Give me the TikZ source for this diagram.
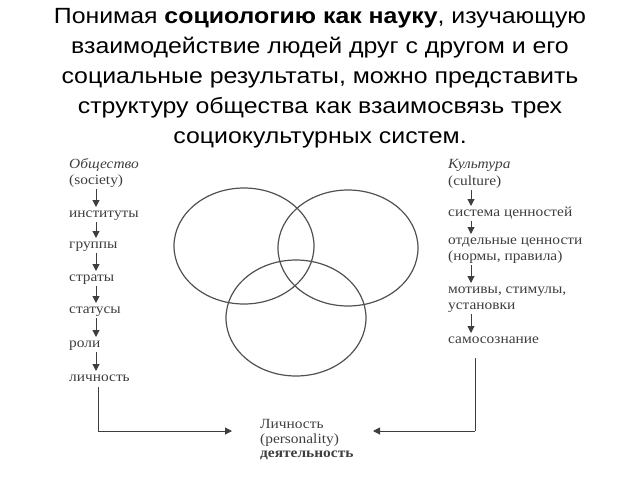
\documentclass[tikz,border=0pt]{standalone}
\usepackage{fontspec}
\setmainfont{Liberation Serif}[FakeStretch=1.1]
\newfontfamily\titlefont{Liberation Sans}[FakeStretch=1.13]
\usetikzlibrary{arrows.meta}
\definecolor{ink}{HTML}{3E3E3E}
\tikzset{
  lbl/.style={anchor=base west, inner sep=0pt, text=ink, font=\fontsize{14}{16}\selectfont},
  ital/.style={lbl, font=\fontsize{14}{16}\selectfont\itshape},
  darr/.style={draw=ink, line width=1pt, -{Triangle[length=7pt,width=7pt]}},
  conn/.style={draw=ink, line width=1pt},
  venn/.style={draw=ink!90, line width=1.2pt}
}
\begin{document}
\begin{tikzpicture}[x=1pt,y=-1pt]
\useasboundingbox (0,0) rectangle (640,480);
% title
\node[anchor=north, align=center, inner sep=0pt, font=\titlefont\fontsize{22}{30}\selectfont] (title) at (320,8.5)
{Понимая \textbf{социологию как науку}, изучающую\\
взаимодействие людей друг с другом и его\\
социальные результаты, можно представить\\
структуру общества как взаимосвязь трех\\
социокультурных систем.};
% left column
\node[ital] (obs) at (69,168) {Общество};
\node[lbl] (soc) at (69,184) {(society)};
\node[lbl] (inst) at (69,217) {институты};
\node[lbl] (grp) at (69,248) {группы};
\node[lbl] (str) at (69,281) {страты};
\node[lbl] (sta) at (69,313) {статусы};
\node[lbl] (rol) at (69,347) {роли};
\node[lbl] (lic) at (69,381) {личность};
\foreach \a/\b in {soc/inst,inst/grp,grp/str,str/sta,sta/rol,rol/lic}
  \draw[darr] ([yshift=-5pt]\a.base west -| 96,0) -- ([yshift=10pt]\b.base west -| 96,0);
% right column
\node[ital] (kul) at (448,168) {Культура};
\node[lbl] (cul) at (448,185) {(culture)};
\node[lbl] (sys) at (448,216) {система ценностей};
\node[lbl] (otd) at (448,244) {отдельные ценности};
\node[lbl] (nor) at (448,260) {(нормы, правила)};
\node[lbl] (mot) at (448,293) {мотивы, стимулы,};
\node[lbl] (ust) at (448,309) {установки};
\node[lbl] (sam) at (448,343) {самосознание};
\foreach \a/\b in {cul/sys,sys/otd,nor/mot,ust/sam}
  \draw[darr] ([yshift=-5pt]\a.base west -| 471,0) -- ([yshift=10pt]\b.base west -| 471,0);
% bottom
\node[lbl] (pers1) at (260,428) {Личность};
\node[lbl] (pers2) at (260,443) {(personality)};
\node[lbl, font=\fontsize{14}{16}\selectfont\bfseries] (pers3) at (260,457) {деятельность};
\coordinate (lc) at (98,431);
\coordinate (rc) at (475,431);
\draw[conn] (98,387) -- (lc);
\draw[darr] (lc) -- (232,431);
\draw[conn] (475,358) -- (rc);
\draw[darr] (rc) -- (373,431);
% circles
\draw[venn] (244,246) ellipse [x radius=70, y radius=58];
\draw[venn] (348,248) ellipse [x radius=70, y radius=58];
\draw[venn] (296,318) ellipse [x radius=70, y radius=58];
\end{tikzpicture}
\end{document}
